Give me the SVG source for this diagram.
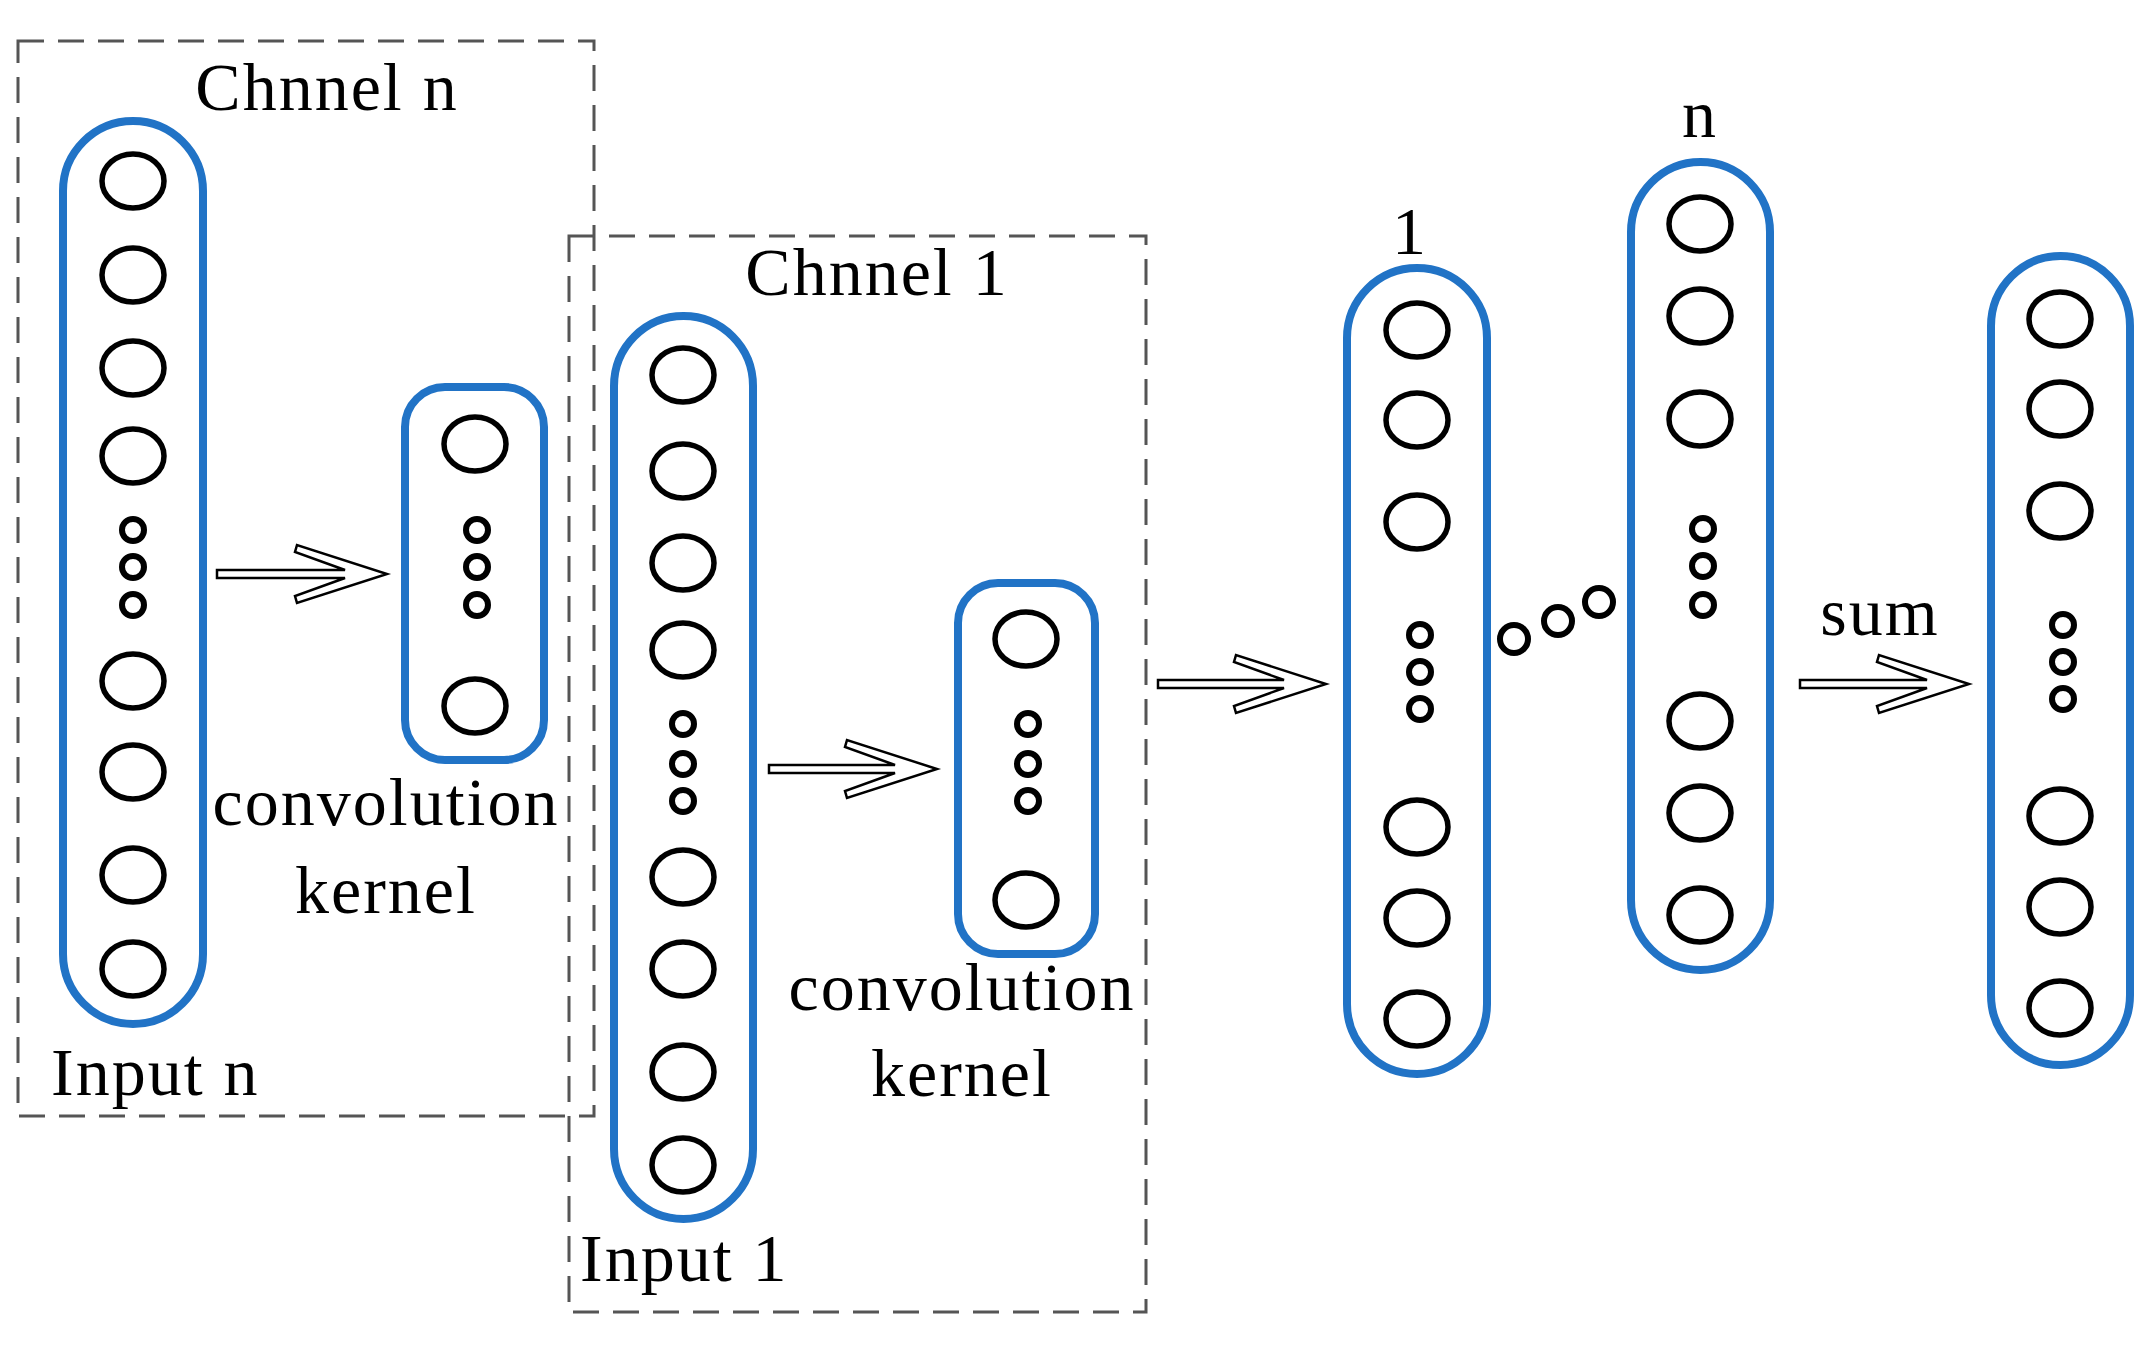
<svg xmlns="http://www.w3.org/2000/svg" width="2155" height="1346" viewBox="0 0 2155 1346">
<style>
.box{fill:none;stroke:#555;stroke-width:3;stroke-dasharray:26 14}
.pill{fill:#fff;stroke:#2173c6;stroke-width:8}
.c{fill:none;stroke:#000;stroke-width:5.5}
.s{fill:none;stroke:#000;stroke-width:6}
.ar{fill:#fff;stroke:#000;stroke-width:2.5;stroke-linejoin:miter}
text{font-family:"Liberation Serif",serif;font-size:68px;fill:#000;letter-spacing:2px}
</style>
<rect width="2155" height="1346" fill="#fff"/>
<g id="channel-n"><rect class="box" x="18" y="41" width="576" height="1075"/><text x="327" y="110" text-anchor="middle">Chnnel n</text></g>
<g id="channel-1"><rect class="box" x="569" y="236" width="577" height="1076"/><text x="877" y="295" text-anchor="middle">Chnnel 1</text></g>
<g id="input-n">
<rect class="pill" x="63" y="121" width="140" height="903" rx="70"/>
<g class="c"><ellipse cx="133" cy="181" rx="31" ry="27"/><ellipse cx="133" cy="275" rx="31" ry="27"/><ellipse cx="133" cy="368" rx="31" ry="27"/><ellipse cx="133" cy="456" rx="31" ry="27"/><ellipse cx="133" cy="681" rx="31" ry="27"/><ellipse cx="133" cy="772" rx="31" ry="27"/><ellipse cx="133" cy="875" rx="31" ry="27"/><ellipse cx="133" cy="969" rx="31" ry="27"/></g>
<g class="s"><circle cx="133" cy="530" r="11"/><circle cx="133" cy="567" r="11"/><circle cx="133" cy="605" r="11"/></g>
<text x="51" y="1095">Input n</text>
</g>
<g id="kernel-n">
<rect class="pill" x="405" y="387" width="139" height="373" rx="40"/>
<g class="c"><ellipse cx="475" cy="444" rx="31" ry="27"/><ellipse cx="475" cy="706" rx="31" ry="27"/></g>
<g class="s"><circle cx="477" cy="530" r="11"/><circle cx="477" cy="567" r="11"/><circle cx="477" cy="605" r="11"/></g>
<text x="386" y="825" text-anchor="middle">convolution</text><text x="386" y="913" text-anchor="middle">kernel</text>
</g>
<g id="input-1">
<rect class="pill" x="614" y="316" width="139" height="903" rx="70"/>
<g class="c"><ellipse cx="683" cy="375" rx="31" ry="27"/><ellipse cx="683" cy="471" rx="31" ry="27"/><ellipse cx="683" cy="563" rx="31" ry="27"/><ellipse cx="683" cy="650" rx="31" ry="27"/><ellipse cx="683" cy="877" rx="31" ry="27"/><ellipse cx="683" cy="969" rx="31" ry="27"/><ellipse cx="683" cy="1072" rx="31" ry="27"/><ellipse cx="683" cy="1165" rx="31" ry="27"/></g>
<g class="s"><circle cx="683" cy="724" r="11"/><circle cx="683" cy="764" r="11"/><circle cx="683" cy="801" r="11"/></g>
<text x="580" y="1281">Input 1</text>
</g>
<g id="kernel-1">
<rect class="pill" x="958" y="583" width="137" height="371" rx="40"/>
<g class="c"><ellipse cx="1026" cy="639" rx="31" ry="27"/><ellipse cx="1026" cy="900" rx="31" ry="27"/></g>
<g class="s"><circle cx="1028" cy="724" r="11"/><circle cx="1028" cy="764" r="11"/><circle cx="1028" cy="801" r="11"/></g>
<text x="962" y="1010" text-anchor="middle">convolution</text><text x="962" y="1096" text-anchor="middle">kernel</text>
</g>
<g id="feature-1">
<rect class="pill" x="1347" y="268" width="140" height="806" rx="70"/>
<g class="c"><ellipse cx="1417" cy="330" rx="31" ry="27"/><ellipse cx="1417" cy="420" rx="31" ry="27"/><ellipse cx="1417" cy="522" rx="31" ry="27"/><ellipse cx="1417" cy="827" rx="31" ry="27"/><ellipse cx="1417" cy="918" rx="31" ry="27"/><ellipse cx="1417" cy="1019" rx="31" ry="27"/></g>
<g class="s"><circle cx="1420" cy="635" r="11"/><circle cx="1420" cy="672" r="11"/><circle cx="1420" cy="709" r="11"/></g>
<text x="1410" y="254" text-anchor="middle">1</text>
</g>
<g id="between-dots" class="s"><circle cx="1514" cy="639" r="14"/><circle cx="1558" cy="621" r="14"/><circle cx="1599" cy="602" r="14"/></g>
<g id="feature-n">
<rect class="pill" x="1631" y="162" width="139" height="808" rx="70"/>
<g class="c"><ellipse cx="1700" cy="224" rx="31" ry="27"/><ellipse cx="1700" cy="316" rx="31" ry="27"/><ellipse cx="1700" cy="419" rx="31" ry="27"/><ellipse cx="1700" cy="721" rx="31" ry="27"/><ellipse cx="1700" cy="813" rx="31" ry="27"/><ellipse cx="1700" cy="915" rx="31" ry="27"/></g>
<g class="s"><circle cx="1703" cy="529" r="11"/><circle cx="1703" cy="566" r="11"/><circle cx="1703" cy="605" r="11"/></g>
<text x="1700" y="137" text-anchor="middle">n</text>
</g>
<g id="output">
<rect class="pill" x="1991" y="256" width="139" height="809" rx="70"/>
<g class="c"><ellipse cx="2060" cy="319" rx="31" ry="27"/><ellipse cx="2060" cy="409" rx="31" ry="27"/><ellipse cx="2060" cy="511" rx="31" ry="27"/><ellipse cx="2060" cy="816" rx="31" ry="27"/><ellipse cx="2060" cy="907" rx="31" ry="27"/><ellipse cx="2060" cy="1008" rx="31" ry="27"/></g>
<g class="s"><circle cx="2063" cy="625" r="11"/><circle cx="2063" cy="662" r="11"/><circle cx="2063" cy="699" r="11"/></g>
</g>
<g id="connectors">
<path class="ar" d="M217 570 H345 L295 552 L297 545 L387 574 L297 603 L295 596 L345 578 H217 Z"/>
<path class="ar" d="M769 765 H895 L845 747 L847 740 L937 769 L847 798 L845 791 L895 773 H769 Z"/>
<path class="ar" d="M1158 680 H1284 L1234 662 L1236 655 L1326 684 L1236 713 L1234 706 L1284 688 H1158 Z"/>
<path class="ar" d="M1800 680 H1927 L1877 662 L1879 655 L1969 684 L1879 713 L1877 706 L1927 688 H1800 Z"/>
<text x="1880" y="635" text-anchor="middle">sum</text>
</g>
</svg>
